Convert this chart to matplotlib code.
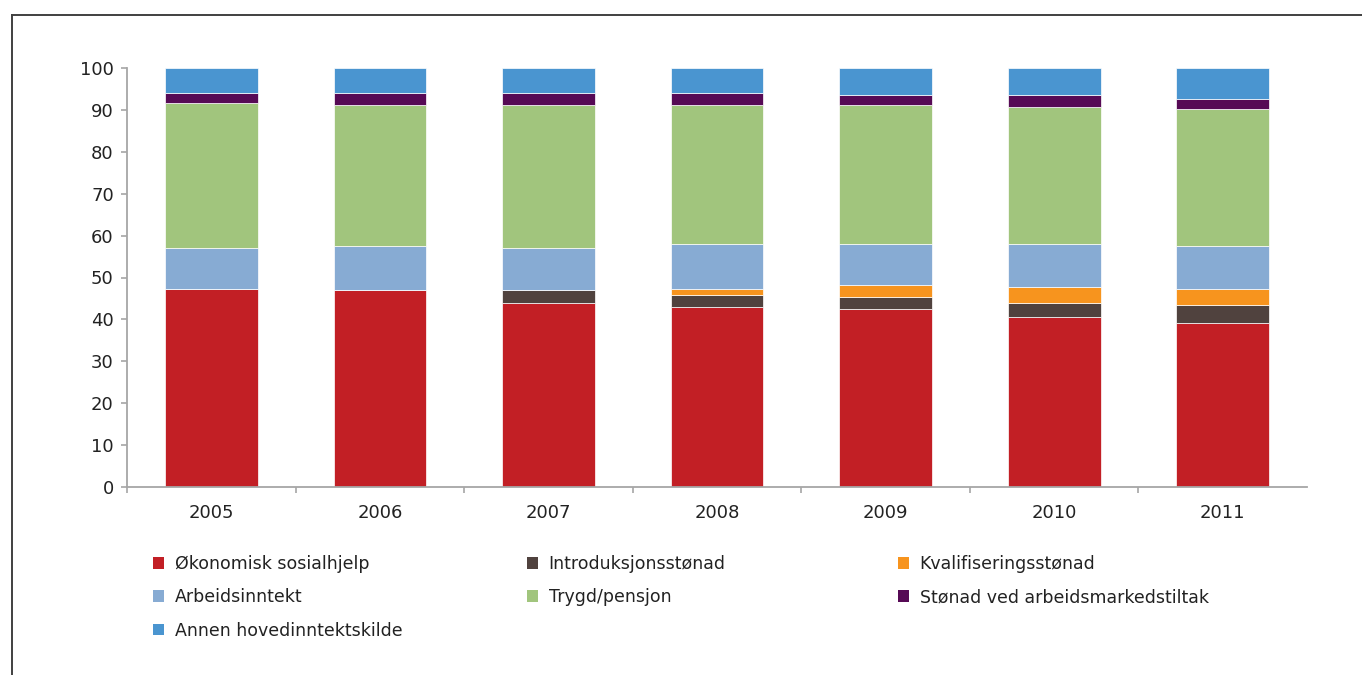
import matplotlib
matplotlib.use("Agg")
import matplotlib.pyplot as plt
from matplotlib.lines import Line2D
from matplotlib.patches import Patch
import numpy as np

plt.rcParams['font.family'] = ['DejaVu Sans']

years = ['2005', '2006', '2007', '2008', '2009', '2010', '2011']
series_names = ['Økonomisk sosialhjelp', 'Introduksjonsstønad', 'Kvalifiseringsstønad',
                'Arbeidsinntekt', 'Trygd/pensjon', 'Stønad ved arbeidsmarkedstiltak',
                'Annen hovedinntektskilde']
okonomisk = [47.3, 46.9, 44.0, 43.0, 42.6, 40.6, 39.1]
introduksjon = [0.0, 0.0, 2.9, 2.9, 2.8, 3.4, 4.4]
kvalifisering = [0.0, 0.0, 0.0, 1.4, 2.9, 3.8, 3.8]
arbeidsinntekt = [9.7, 10.5, 10.1, 10.6, 9.6, 10.1, 10.1]
trygd = [34.6, 33.8, 34.2, 33.3, 33.3, 32.8, 32.8]
tiltak = [2.4, 2.8, 2.8, 2.8, 2.4, 2.9, 2.4]
annen = [6.0, 6.0, 6.0, 6.0, 6.4, 6.4, 7.4]
colors = ['#C21F25', '#50423E', '#F7941E', '#87ABD3', '#A1C57D', '#560A55', '#4A95D0']

series = [okonomisk, introduksjon, kvalifisering, arbeidsinntekt, trygd, tiltak, annen]

fig = plt.figure(figsize=(13.62, 6.75), dpi=100)
ax = fig.add_axes([127/1362, 1-487/675, (1307-127)/1362, (487-68)/675])

x = np.arange(len(years))
bottom = np.zeros(len(years))
handles = []
for name, vals, c in zip(series_names, series, colors):
    v = np.array(vals)
    ax.bar(x, v, width=0.55, bottom=bottom, color=c, edgecolor='#FFFFFF', linewidth=0.5)
    bottom += v
    handles.append(Patch(facecolor=c, edgecolor='none', label=name))

ax.set_xlim(-0.5, len(years) - 0.5)
ax.set_ylim(0, 100)
ax.set_yticks(np.arange(0, 101, 10))
ax.set_xticks(x)
ax.set_xticklabels(years)
ax.set_xticks(np.arange(-0.5, len(years) - 1, 1.0), minor=True)

for s in ['top', 'right']:
    ax.spines[s].set_visible(False)
for s in ['left', 'bottom']:
    ax.spines[s].set_color('#A6A6A6')
    ax.spines[s].set_linewidth(1.3)

ax.tick_params(axis='y', direction='out', length=4.5, width=1.2, color='#A6A6A6',
               labelsize=13, labelcolor='#222222', pad=5)
ax.tick_params(axis='x', which='major', length=0, labelsize=13, labelcolor='#222222', pad=12)
ax.tick_params(axis='x', which='minor', direction='out', length=4.5, width=1.2, color='#A6A6A6')

# Legend in three manual columns
col_x = [153/1362, 527/1362, 898/1362]
col_items = [[0, 3, 6], [1, 4], [2, 5]]
for cx, items in zip(col_x, col_items):
    leg = fig.legend(handles=[handles[i] for i in items], loc='upper left',
                     bbox_to_anchor=(cx, 1-555/675), frameon=False, fontsize=12.5,
                     handlelength=0.65, handleheight=0.65, handletextpad=0.6,
                     labelspacing=0.88, borderaxespad=0, borderpad=0)
    for t in leg.get_texts():
        t.set_color('#222222')

# Outer frame lines (top and left)
fig.add_artist(Line2D([12/1362, 1.0], [1-15/675, 1-15/675], transform=fig.transFigure,
                      color='#404040', linewidth=1.4))
fig.add_artist(Line2D([12/1362, 12/1362], [0, 1-15/675], transform=fig.transFigure,
                      color='#404040', linewidth=1.4))

fig.savefig('out.png', dpi=100)
